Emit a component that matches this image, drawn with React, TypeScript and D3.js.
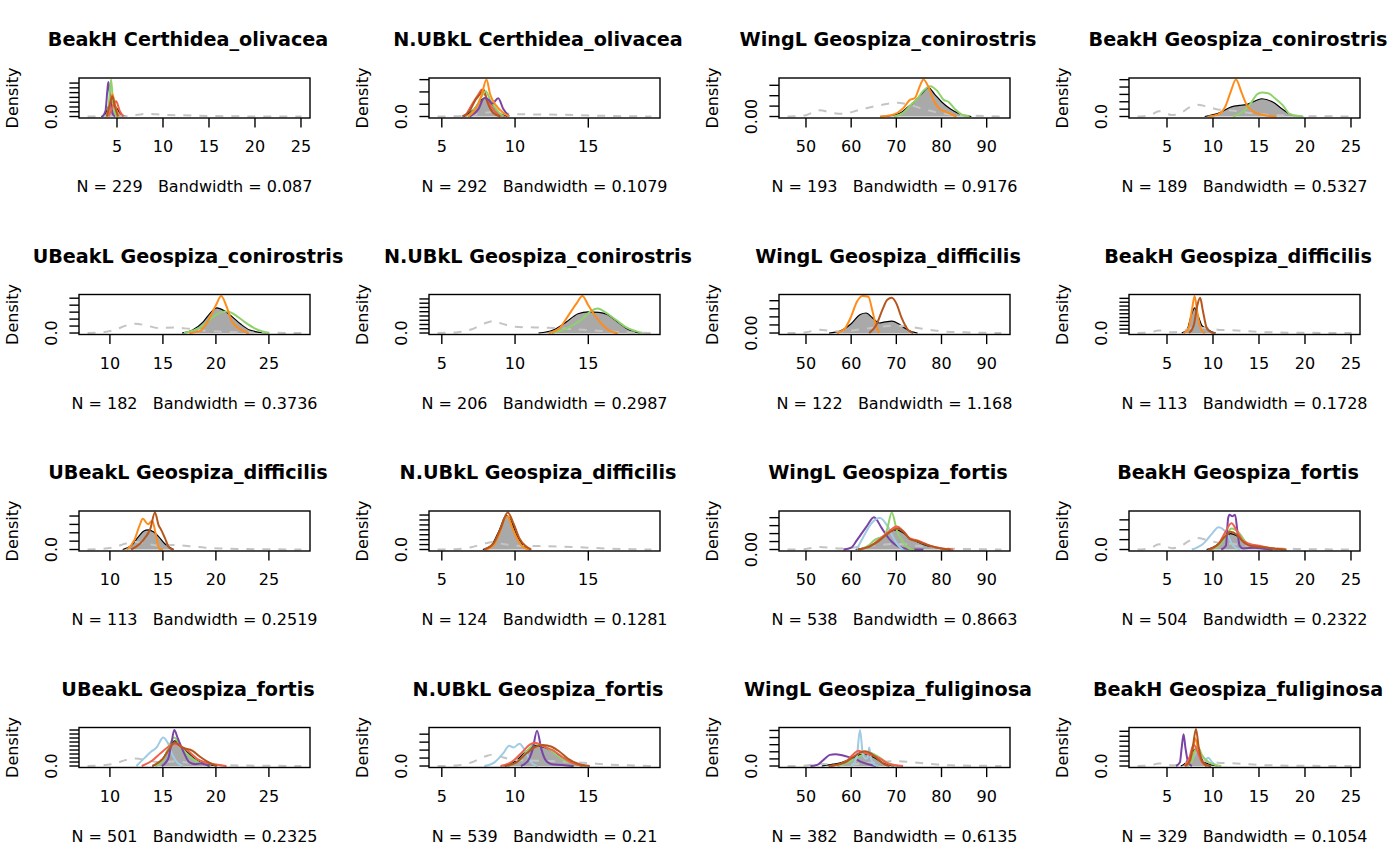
import React from 'react';
import * as d3 from 'd3';

type Pt = [number, number];
type Line = [string, Pt[]];

// panels, row by row
const panelVars = ['BeakH', 'N.UBkL', 'WingL', 'BeakH', 'UBeakL', 'N.UBkL', 'WingL', 'BeakH',
  'UBeakL', 'N.UBkL', 'WingL', 'BeakH', 'UBeakL', 'N.UBkL', 'WingL', 'BeakH'];
const species = ['Certhidea_olivacea', 'Certhidea_olivacea', 'Geospiza_conirostris', 'Geospiza_conirostris',
  'Geospiza_conirostris', 'Geospiza_conirostris', 'Geospiza_difficilis', 'Geospiza_difficilis',
  'Geospiza_difficilis', 'Geospiza_difficilis', 'Geospiza_fortis', 'Geospiza_fortis',
  'Geospiza_fortis', 'Geospiza_fortis', 'Geospiza_fuliginosa', 'Geospiza_fuliginosa'];
const sampleN = [229, 292, 193, 189, 182, 206, 122, 113, 113, 124, 538, 504, 501, 539, 382, 329];
const bandwidths = ['0.087', '0.1079', '0.9176', '0.5327', '0.3736', '0.2987', '1.168', '0.1728',
  '0.2519', '0.1281', '0.8663', '0.2322', '0.2325', '0.21', '0.6135', '0.1054'];
const yTickCounts = [8, 4, 4, 6, 6, 9, 5, 10, 5, 8, 5, 4, 10, 5, 6, 8];
const yTickSteps = [0.129, 0.332, 0.281, 0.199, 0.188, 0.115, 0.218, 0.104,
  0.226, 0.133, 0.215, 0.267, 0.108, 0.215, 0.192, 0.134];
const zeroLabels = ['0.0', '0.0', '0.00', '0.0', '0.0', '0.0', '0.00', '0.0',
  '0.0', '0.0', '0.00', '0.0', '0.0', '0.0', '0.0', '0.0'];
const dashScales = [0.07, 0.12, 0.37, 0.32, 0.25, 0.32, 0.2, 0.15, 0.2, 0.2, 0.15, 0.31, 0.2, 0.31, 0.13, 0.15];

// per variable
const xLimits: Record<string, [number, number]> = {
  BeakH: [1.8, 25.05], UBeakL: [7.89, 28.07], 'N.UBkL': [4.71, 19.31], WingL: [45.92, 93.27],
};
const xTicks: Record<string, number[]> = {
  BeakH: [5, 10, 15, 20, 25], UBeakL: [10, 15, 20, 25], 'N.UBkL': [5, 10, 15], WingL: [50, 60, 70, 80, 90],
};
const overall: Record<string, Pt[]> = {
  BeakH: [[1.8, 0], [2.5, 0.03], [3.3, 0.15], [4.1, 0.45], [4.6, 0.4], [5.5, 0.12], [6.5, 0.3], [7.5, 0.8],
    [8.3, 1.0], [9.3, 0.85], [10.5, 0.6], [12, 0.5], [13.5, 0.35], [15, 0.2], [17, 0.1], [19, 0.05], [22, 0.02], [25.05, 0]],
  UBeakL: [[7.89, 0], [9, 0.05], [10.5, 0.35], [11.5, 0.8], [12.4, 1.0], [13.5, 0.8], [14.5, 0.55], [16, 0.6],
    [17.5, 0.45], [19, 0.25], [21, 0.12], [23, 0.06], [25, 0.03], [28.07, 0]],
  'N.UBkL': [[4.71, 0], [6, 0.05], [7, 0.3], [8, 0.85], [8.5, 1.0], [9.2, 0.75], [10, 0.52], [11, 0.48],
    [12, 0.45], [13, 0.4], [14, 0.33], [15, 0.25], [16.5, 0.12], [18, 0.05], [19.31, 0]],
  WingL: [[45.92, 0], [48, 0.02], [50, 0.1], [53, 0.45], [56, 0.25], [58, 0.2], [62, 0.5], [66, 0.8],
    [70, 1.0], [73, 0.85], [76, 0.55], [79, 0.3], [82, 0.15], [86, 0.08], [90, 0.03], [93.27, 0]],
};

const palette: Record<string, string> = {
  purple: '#7A44A6', green: '#8FD16A', orange: '#FF8C1A', red: '#F0604F', brown: '#B5561E', lightblue: '#9FCBE3',
};

// grey filled density of the species, one per panel
const fills: Pt[][] = [
  [[3.3, 0], [3.8, 0.1], [4.2, 0.35], [4.5, 0.4], [4.9, 0.25], [5.4, 0.08], [6, 0]],
  [[6.5, 0], [7.2, 0.2], [7.7, 0.45], [8.0, 0.5], [8.4, 0.35], [8.9, 0.1], [9.5, 0]],
  [[66.4, 0], [69, 0.03], [71, 0.1], [72.5, 0.25], [74, 0.4], [75.5, 0.6], [77.1, 0.78], [78.5, 0.6], [80, 0.4], [82, 0.2], [84, 0.07], [86.6, 0]],
  [[9.1, 0], [10.7, 0.1], [12, 0.26], [12.9, 0.3], [13.6, 0.32], [14.4, 0.4], [15.3, 0.48], [16.5, 0.39], [17.6, 0.19], [18.7, 0.03], [19.8, 0]],
  [[16.8, 0], [17.8, 0.08], [18.8, 0.3], [19.5, 0.55], [20.1, 0.68], [20.8, 0.6], [21.5, 0.45], [22.3, 0.25], [23.2, 0.08], [24.7, 0]],
  [[11.6, 0], [12.6, 0.08], [13.5, 0.3], [14.3, 0.52], [15, 0.57], [15.7, 0.56], [16.3, 0.5], [17, 0.3], [17.7, 0.1], [18.5, 0]],
  [[55.1, 0], [57.5, 0.05], [60, 0.25], [62, 0.5], [63.3, 0.54], [64.8, 0.4], [66.2, 0.27], [67.5, 0.3], [69, 0.32], [70.5, 0.25], [72, 0.12], [73.5, 0.03], [74.7, 0]],
  [[6.6, 0], [7.2, 0.1], [7.6, 0.45], [8.0, 0.68], [8.4, 0.45], [8.8, 0.2], [9.3, 0.12], [9.8, 0.04], [10.3, 0]],
  [[11.2, 0], [12, 0.1], [12.7, 0.35], [13.2, 0.5], [13.6, 0.53], [14.1, 0.48], [14.6, 0.35], [15.2, 0.15], [16, 0]],
  [[7.8, 0], [8.4, 0.12], [8.9, 0.5], [9.4, 0.92], [9.7, 0.8], [10.1, 0.4], [10.6, 0.1], [11.1, 0]],
  [[61, 0], [63, 0.05], [65, 0.15], [67, 0.35], [68.5, 0.48], [70.1, 0.53], [71.5, 0.45], [73, 0.3], [74.5, 0.22], [76, 0.14], [78, 0.07], [80, 0.02], [82.5, 0]],
  [[9.3, 0], [10.3, 0.1], [11.2, 0.32], [11.9, 0.43], [12.7, 0.35], [13.5, 0.18], [14.5, 0.09], [15.5, 0.06], [16.5, 0.03], [17.8, 0]],
  [[14, 0], [15, 0.2], [15.6, 0.5], [16.1, 0.68], [16.7, 0.55], [17.4, 0.35], [18.2, 0.15], [19, 0.06], [20, 0]],
  [[9.2, 0], [10, 0.12], [10.7, 0.38], [11.4, 0.55], [12, 0.5], [12.6, 0.38], [13.3, 0.2], [14.1, 0.05], [14.8, 0]],
  [[53.5, 0], [56, 0.05], [58, 0.1], [60, 0.2], [61.5, 0.29], [62.7, 0.32], [64, 0.29], [65.5, 0.2], [67, 0.09], [68.5, 0.02], [69.5, 0]],
  [[6.5, 0], [7.0, 0.08], [7.5, 0.25], [8.0, 0.45], [8.5, 0.3], [9.0, 0.12], [9.6, 0.05], [10.5, 0]],
];

// coloured densities per island, one list per panel
const lines: Line[][] = [
  [
    ['purple', [[3.4, 0], [3.75, 0.15], [3.95, 0.7], [4.06, 0.93], [4.25, 0.55], [4.5, 0.1], [4.8, 0]]],
    ['green', [[3.9, 0], [4.1, 0.3], [4.35, 1.0], [4.55, 0.45], [4.85, 0.05], [5.1, 0]]],
    ['orange', [[3.9, 0], [4.2, 0.3], [4.5, 0.6], [4.8, 0.3], [5.2, 0]]],
    ['red', [[4.1, 0], [4.5, 0.25], [4.9, 0.41], [5.3, 0.15], [5.7, 0]]],
    ['brown', [[3.9, 0], [4.25, 0.35], [4.5, 0.55], [4.75, 0.3], [5.1, 0]]],
  ],
  [
    ['red', [[6.6, 0], [7.1, 0.35], [7.5, 0.6], [7.75, 0.73], [8.0, 0.55], [8.4, 0.25], [8.9, 0.05], [9.3, 0]]],
    ['brown', [[6.4, 0], [6.9, 0.15], [7.3, 0.45], [7.6, 0.6], [7.85, 0.73], [8.1, 0.4], [8.5, 0.1], [9, 0]]],
    ['green', [[6.8, 0], [7.4, 0.3], [7.8, 0.6], [8.0, 0.68], [8.3, 0.45], [8.7, 0.2], [9.2, 0]]],
    ['purple', [[6.9, 0], [7.5, 0.2], [7.9, 0.5], [8.2, 0.45], [8.45, 0.35], [8.85, 0.49], [9.2, 0.2], [9.6, 0]]],
    ['orange', [[6.8, 0], [7.3, 0.2], [7.7, 0.55], [8.05, 1.0], [8.3, 0.6], [8.7, 0.3], [9.2, 0.1], [9.6, 0]]],
  ],
  [
    ['green', [[69.5, 0], [71.5, 0.1], [73.5, 0.35], [74.5, 0.46], [76, 0.7], [77.5, 0.82], [79, 0.7], [80.5, 0.45], [81.5, 0.4], [83, 0.2], [84.5, 0.05], [86.2, 0]]],
    ['orange', [[66.4, 0], [69.3, 0.05], [71.5, 0.22], [73.0, 0.45], [74.1, 0.5], [75.2, 0.82], [76.0, 1.0], [77.1, 0.8], [78.2, 0.45], [79.6, 0.2], [81.1, 0.12], [83.3, 0]]],
  ],
  [
    ['green', [[12.2, 0], [13.2, 0.12], [14.0, 0.32], [14.8, 0.6], [15.3, 0.65], [16, 0.63], [16.7, 0.5], [17.6, 0.3], [18.4, 0.06], [19.8, 0]]],
    ['orange', [[9.5, 0], [10.5, 0.05], [11.3, 0.25], [11.9, 0.65], [12.5, 1.0], [13.1, 0.65], [13.7, 0.3], [14.5, 0.12], [15.5, 0.04], [16.9, 0]]],
  ],
  [
    ['green', [[17, 0], [18.5, 0.15], [19.6, 0.4], [20.4, 0.55], [21.1, 0.58], [22, 0.45], [22.8, 0.28], [23.7, 0.12], [25, 0]]],
    ['orange', [[17.5, 0], [18.5, 0.05], [19.2, 0.3], [20.0, 0.75], [20.5, 1.0], [21.0, 0.72], [21.5, 0.32], [22.3, 0.1], [23.1, 0]]],
  ],
  [
    ['green', [[12.5, 0], [13.5, 0.12], [14.5, 0.35], [15.2, 0.6], [15.65, 0.66], [16.2, 0.55], [16.9, 0.35], [17.6, 0.15], [18.7, 0]]],
    ['orange', [[12.3, 0], [13, 0.12], [13.6, 0.45], [14.2, 0.8], [14.6, 1.0], [15.0, 0.75], [15.4, 0.5], [15.9, 0.25], [16.5, 0.05], [17, 0]]],
  ],
  [
    ['orange', [[56.9, 0], [58.5, 0.1], [60, 0.45], [61.3, 0.85], [62.5, 1.0], [63.8, 0.98], [64.7, 0.6], [65.5, 0.2], [66.2, 0]]],
    ['brown', [[64, 0], [65.5, 0.2], [67, 0.65], [68, 0.9], [69, 0.95], [70, 0.8], [71.2, 0.4], [72.5, 0.1], [73.7, 0]]],
  ],
  [
    ['orange', [[6.8, 0], [7.3, 0.1], [7.7, 0.6], [8.0, 1.0], [8.3, 0.55], [8.7, 0.1], [9.1, 0]]],
    ['brown', [[7.4, 0], [7.9, 0.2], [8.3, 0.75], [8.6, 0.95], [8.9, 0.6], [9.3, 0.15], [9.8, 0.02], [10.2, 0]]],
  ],
  [
    ['orange', [[11.6, 0], [12.3, 0.25], [12.8, 0.65], [13.1, 0.83], [13.6, 0.68], [14.0, 0.78], [14.3, 0.45], [14.65, 0.02], [15, 0]]],
    ['brown', [[12.0, 0], [12.8, 0.15], [13.4, 0.35], [13.8, 0.55], [14.25, 1.0], [14.6, 0.65], [14.8, 0.55], [15.2, 0.3], [15.6, 0.05], [16, 0]]],
  ],
  [
    ['orange', [[8.0, 0], [8.5, 0.1], [8.9, 0.4], [9.3, 0.85], [9.5, 0.9], [9.8, 0.6], [10.2, 0.25], [10.6, 0.05], [11, 0]]],
    ['brown', [[7.9, 0], [8.5, 0.15], [9.0, 0.55], [9.5, 1.0], [9.9, 0.7], [10.3, 0.3], [10.7, 0.1], [11.1, 0]]],
  ],
  [
    ['purple', [[58.3, 0], [60, 0.05], [61.2, 0.24], [63.4, 0.62], [65.05, 0.87], [66.8, 0.57], [68.6, 0.26], [70.8, 0.06], [73, 0.01], [76, 0]]],
    ['lightblue', [[61.2, 0], [62.7, 0.34], [64.5, 0.71], [66.4, 0.85], [67.9, 0.66], [69.7, 0.24], [70.8, 0.06], [71.5, 0]]],
    ['green', [[62, 0], [64, 0.12], [65, 0.24], [66.4, 0.32], [67.2, 0.35], [67.9, 0.52], [69, 1.0], [70.1, 0.52], [71.5, 0.2], [72.9, 0.02], [74, 0]]],
    ['red', [[61.9, 0], [64, 0.08], [66, 0.25], [68, 0.45], [70.1, 0.62], [71.5, 0.5], [73, 0.3], [74.5, 0.25], [76, 0.18], [78, 0.08], [80, 0.03], [82.6, 0]]],
    ['brown', [[61.5, 0], [64, 0.08], [66, 0.22], [68, 0.42], [70.3, 0.57], [71.8, 0.45], [73, 0.28], [74.5, 0.23], [76, 0.16], [78, 0.08], [80, 0.03], [82, 0]]],
  ],
  [
    ['lightblue', [[7.7, 0], [8.9, 0.15], [9.9, 0.43], [10.6, 0.6], [11.5, 0.43], [12.2, 0.1], [12.9, 0]]],
    ['green', [[9.8, 0], [10.8, 0.15], [11.5, 0.4], [12.0, 0.57], [12.9, 0.43], [13.5, 0.22], [14.2, 0.1], [15.5, 0.04], [17, 0]]],
    ['purple', [[10.9, 0], [11.4, 0.1], [11.65, 0.85], [11.8, 0.94], [12.1, 0.9], [12.4, 0.94], [12.65, 0.5], [12.9, 0.1], [13.3, 0.03], [14.5, 0.05], [15.5, 0.02], [16.5, 0]]],
    ['red', [[9.7, 0], [10.6, 0.15], [11.3, 0.45], [12.0, 0.71], [12.6, 0.5], [13.2, 0.25], [14.0, 0.15], [15.0, 0.1], [16.2, 0.04], [17.6, 0]]],
    ['brown', [[9.5, 0], [10.5, 0.12], [11.3, 0.35], [11.9, 0.48], [12.6, 0.4], [13.3, 0.2], [14.0, 0.1], [15.2, 0.07], [16.5, 0.03], [18, 0]]],
  ],
  [
    ['lightblue', [[12.5, 0], [13.2, 0.2], [13.9, 0.39], [14.4, 0.5], [15.03, 0.77], [15.5, 0.6], [15.9, 0.3], [16.4, 0.08], [16.9, 0]]],
    ['green', [[14.3, 0], [15, 0.15], [15.6, 0.55], [16.07, 0.77], [16.6, 0.55], [17.2, 0.35], [17.8, 0.2], [18.5, 0.08], [19.5, 0]]],
    ['purple', [[14.9, 0], [15.5, 0.2], [15.8, 0.6], [16.07, 0.97], [16.4, 0.75], [16.9, 0.41], [17.5, 0.1], [18.1, 0.05], [18.6, 0.07], [19.4, 0]]],
    ['red', [[13, 0], [14, 0.15], [14.8, 0.35], [15.5, 0.52], [16.1, 0.6], [16.8, 0.52], [17.5, 0.38], [18.3, 0.18], [19, 0.1], [20, 0.04], [21, 0]]],
    ['brown', [[14, 0], [15, 0.2], [15.7, 0.5], [16.1, 0.64], [16.8, 0.5], [17.8, 0.41], [18.5, 0.25], [19.2, 0.12], [20.1, 0]]],
  ],
  [
    ['lightblue', [[7.9, 0], [8.6, 0.1], [9.2, 0.35], [9.6, 0.55], [9.9, 0.5], [10.3, 0.6], [10.7, 0.4], [11.1, 0.1], [11.5, 0]]],
    ['green', [[9.5, 0], [10.3, 0.15], [10.9, 0.45], [11.4, 0.6], [11.9, 0.55], [12.5, 0.4], [13.2, 0.2], [14, 0.05], [14.8, 0]]],
    ['purple', [[10.4, 0], [10.9, 0.15], [11.2, 0.45], [11.5, 0.95], [11.8, 0.45], [12.1, 0.15], [12.5, 0.05], [13.2, 0.03], [14, 0]]],
    ['red', [[9.0, 0], [9.8, 0.12], [10.5, 0.38], [11.0, 0.58], [11.4, 0.63], [12, 0.52], [12.6, 0.42], [13.2, 0.25], [13.9, 0.08], [14.6, 0]]],
    ['brown', [[9.3, 0], [10.1, 0.1], [10.8, 0.35], [11.4, 0.52], [11.9, 0.57], [12.5, 0.52], [13, 0.4], [13.6, 0.2], [14.3, 0.06], [15.1, 0]]],
  ],
  [
    ['purple', [[51, 0], [52.5, 0.03], [54, 0.18], [55.3, 0.3], [56.5, 0.32], [58, 0.29], [59.5, 0.24], [61, 0.18], [62.5, 0.1], [64, 0.04], [65.5, 0]]],
    ['green', [[57, 0], [59, 0.08], [61, 0.2], [62.5, 0.3], [63.8, 0.37], [65, 0.32], [66.8, 0.19], [68, 0.08], [69.5, 0.02], [70.5, 0]]],
    ['lightblue', [[60, 0], [60.8, 0.1], [61.3, 0.3], [61.95, 0.97], [62.6, 0.32], [63.2, 0.2], [63.6, 0.22], [64.0, 0.5], [64.4, 0.2], [65, 0.05], [66, 0]]],
    ['red', [[55.5, 0], [57.5, 0.05], [59, 0.14], [60.5, 0.32], [61.6, 0.41], [62.5, 0.38], [63.5, 0.33], [65, 0.28], [66.4, 0.2], [68, 0.08], [69.5, 0.03], [71.5, 0]]],
    ['brown', [[55, 0], [57, 0.04], [59, 0.12], [60.5, 0.25], [62, 0.36], [63.06, 0.4], [64.5, 0.33], [66, 0.18], [67.2, 0.06], [68.5, 0]]],
  ],
  [
    ['lightblue', [[7.2, 0], [7.8, 0.2], [8.3, 0.4], [8.8, 0.25], [9.2, 0.18], [9.5, 0.22], [9.9, 0.1], [10.5, 0]]],
    ['green', [[7.2, 0], [7.7, 0.15], [8.3, 0.54], [8.8, 0.3], [9.4, 0.12], [10, 0.05], [10.9, 0]]],
    ['purple', [[6.0, 0], [6.4, 0.1], [6.6, 0.5], [6.8, 0.86], [7.0, 0.5], [7.3, 0.1], [7.7, 0]]],
    ['orange', [[7.0, 0], [7.5, 0.15], [7.8, 0.45], [8.05, 0.75], [8.4, 0.45], [8.8, 0.12], [9.3, 0]]],
    ['red', [[6.9, 0], [7.4, 0.2], [7.9, 0.58], [8.3, 0.4], [8.8, 0.1], [9.3, 0]]],
    ['brown', [[7.0, 0], [7.5, 0.15], [7.8, 0.5], [8.15, 1.0], [8.45, 0.5], [8.8, 0.15], [9.3, 0.02], [9.8, 0]]],
  ],
];

const W = 1400;
const H = 866;
const COL_W = 350;
const ROW_H = 216.5;
const box = { left: 79, right: 310, top: 78, bottom: 118 };
const FONT = '"DejaVu Sans", Verdana, sans-serif';

const Panel: React.FC<{ i: number }> = ({ i }) => {
  const v = panelVars[i];
  const [lo, hi] = xLimits[v];
  const pad = (hi - lo) * 0.04;
  const x = d3.scaleLinear().domain([lo - pad, hi + pad]).range([box.left, box.right]);
  const y = d3.scaleLinear().domain([-0.04, 1.04]).range([box.bottom, box.top]);
  const line = d3.line<Pt>().x(d => x(d[0])).y(d => y(d[1])).curve(d3.curveMonotoneX);
  const area = d3.area<Pt>().x(d => x(d[0])).y0(y(0)).y1(d => y(d[1])).curve(d3.curveMonotoneX);
  const dashed: Pt[] = overall[v].map(d => [d[0], d[1] * dashScales[i]]);
  const yTicks = d3.range(yTickCounts[i]).map(k => k * yTickSteps[i]);
  const clipId = `clip-${i}`;
  const tx = (i % 4) * COL_W;
  const ty = Math.floor(i / 4) * ROW_H;
  const midY = (box.top + box.bottom) / 2;

  return (
    <g transform={`translate(${tx},${ty})`}>
      <clipPath id={clipId}>
        <rect x={box.left} y={box.top} width={box.right - box.left} height={box.bottom - box.top} />
      </clipPath>
      <g clipPath={`url(#${clipId})`}>
        <path d={area(fills[i]) ?? ''} fill="#A9A9A9" stroke="none" />
        <path d={line(fills[i]) ?? ''} fill="none" stroke="#000" strokeWidth={1.2} />
        <path d={line(dashed) ?? ''} fill="none" stroke="#C4C4C4" strokeWidth={2} strokeDasharray="8,8" />
        {lines[i].map(([c, pts], k) => (
          <path key={k} d={line(pts) ?? ''} fill="none" stroke={palette[c]} strokeWidth={2} />
        ))}
      </g>
      <rect x={box.left} y={box.top} width={box.right - box.left} height={box.bottom - box.top}
        fill="none" stroke="#000" strokeWidth={1.4} />
      {xTicks[v].map(t => (
        <g key={t}>
          <line x1={x(t)} x2={x(t)} y1={box.bottom} y2={box.bottom + 9.6} stroke="#000" strokeWidth={1.4} />
          <text x={x(t)} y={152} textAnchor="middle" fontSize={16}>{t}</text>
        </g>
      ))}
      {yTicks.map((t, k) => (
        <line key={k} x1={box.left - 9.6} x2={box.left} y1={y(t)} y2={y(t)} stroke="#000" strokeWidth={1.4} />
      ))}
      <text transform={`translate(57,${y(0)}) rotate(-90)`} textAnchor="middle" fontSize={16}>{zeroLabels[i]}</text>
      <text transform={`translate(17.5,${midY}) rotate(-90)`} textAnchor="middle" fontSize={16}>Density</text>
      <text x={188} y={46} textAnchor="middle" fontSize={19.2} fontWeight="bold">{`${v} ${species[i]}`}</text>
      <text x={(box.left + box.right) / 2} y={192} textAnchor="middle" fontSize={16} style={{ whiteSpace: 'pre' }}>
        {`N = ${sampleN[i]}   Bandwidth = ${bandwidths[i]}`}
      </text>
    </g>
  );
};

export default function App() {
  return (
    <div style={{ position: 'absolute', left: 0, top: 0, width: W, height: H, background: '#fff' }}>
      <svg width={W} height={H} fontFamily={FONT}>
        <rect width={W} height={H} fill="#fff" />
        {panelVars.map((_, i) => <Panel key={i} i={i} />)}
      </svg>
    </div>
  );
}
